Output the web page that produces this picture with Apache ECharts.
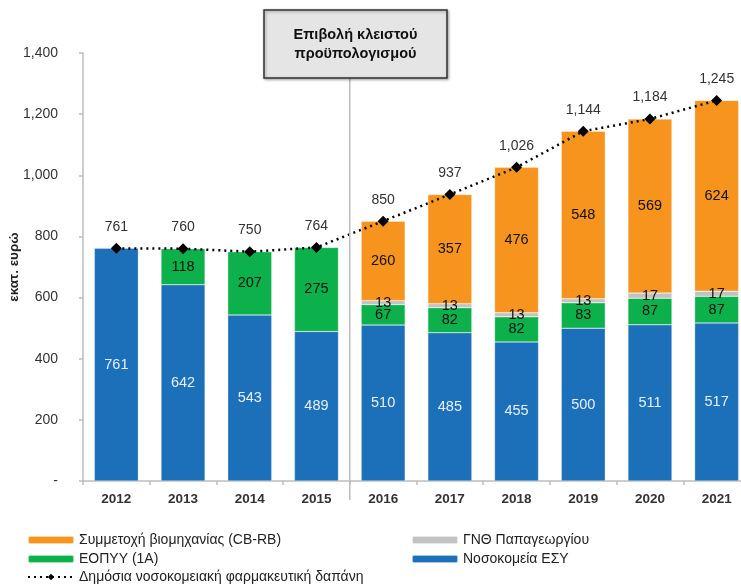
<!DOCTYPE html>
<html><head><meta charset="utf-8">
<script src="https://cdn.jsdelivr.net/npm/echarts@6/dist/echarts.min.js"></script>
<style>html,body{margin:0;padding:0;background:#fff}#c{width:741px;height:584px}</style>
</head><body><div id="c"></div>
<script>
const years = ['2012','2013','2014','2015','2016','2017','2018','2019','2020','2021'];
const esy = [761,642,543,489,510,485,455,500,511,517];
const eopyy = [null,118,207,275,67,82,82,83,87,87];
const papag = [null,null,null,null,13,13,13,13,17,17];
const industry = [null,null,null,null,260,357,476,548,569,624];
const total = [761,760,750,764,850,937,1026,1144,1184,1245];
const yTicks = {min:0,max:1400,interval:200};

const F = 'Liberation Sans, Arial, sans-serif';
const chart = echarts.init(document.getElementById('c'));
const barLabel = (color)=>({show:true,position:'inside',color:color,fontSize:14.5,fontFamily:F});
const common = {type:'bar',stack:'s',barWidth:44,itemStyle:{borderColor:'rgba(255,255,255,0.6)',borderWidth:0.5}};
const legText = {fontSize:14,color:'#222',fontFamily:F,lineHeight:16};
const leg = (left, top, name)=>({left:left,top:top,orient:'horizontal',padding:0,itemWidth:46,itemHeight:8,itemGap:3,textStyle:legText,data:[name]});
chart.setOption({
  animation:false,
  textStyle:{fontFamily:F},
  grid:{left:83,top:53,width:667,height:428,outerBoundsMode:'none',containLabel:false},
  xAxis:{type:'category',data:years,
    axisLine:{lineStyle:{color:'#bdbdbd',width:1.5}},
    axisTick:{show:true,length:4,lineStyle:{color:'#bdbdbd',width:1.5}},
    axisLabel:{color:'#333',fontSize:13.5,fontWeight:'bold',margin:11,fontFamily:F}},
  yAxis:{type:'value',min:yTicks.min,max:yTicks.max,interval:yTicks.interval,
    name:'εκατ. ευρώ',nameLocation:'middle',nameGap:62,nameRotate:90,nameMoveOverlap:false,
    nameTextStyle:{fontWeight:'bold',fontSize:13.5,color:'#222',fontFamily:F},
    axisLine:{show:true,lineStyle:{color:'#bdbdbd',width:1.5}},
    axisTick:{show:true,length:4,lineStyle:{color:'#bdbdbd',width:1.5}},
    splitLine:{show:false},
    axisLabel:{color:'#333',fontSize:14,margin:25,fontFamily:F,
      formatter:v=> v===0?'-':v.toLocaleString('en-US')}},
  legend:[
    leg(27,532,'Συμμετοχή βιομηχανίας (CB-RB)'),
    leg(27,551,'ΕΟΠΥΥ (1A)'),
    leg(27,569,'Δημόσια νοσοκομειακή φαρμακευτική δαπάνη'),
    leg(411,532,'ΓΝΘ Παπαγεωργίου'),
    leg(411,551,'Νοσοκομεία ΕΣΥ')
  ],
  series:[
    Object.assign({},common,{name:'Νοσοκομεία ΕΣΥ',data:esy,itemStyle:Object.assign({},common.itemStyle,{color:'#1c6fb9'}),label:barLabel('#e8f0fa')}),
    Object.assign({},common,{name:'ΕΟΠΥΥ (1A)',data:eopyy,itemStyle:Object.assign({},common.itemStyle,{color:'#0db14b'}),label:barLabel('#111')}),
    Object.assign({},common,{name:'ΓΝΘ Παπαγεωργίου',data:papag,itemStyle:Object.assign({},common.itemStyle,{color:'#c2c2c2'}),label:barLabel('#111')}),
    Object.assign({},common,{name:'Συμμετοχή βιομηχανίας (CB-RB)',data:industry,itemStyle:Object.assign({},common.itemStyle,{color:'#f7941d'}),label:barLabel('#111')}),
    {name:'Δημόσια νοσοκομειακή φαρμακευτική δαπάνη',type:'line',data:total,
     symbol:'diamond',symbolSize:11,itemStyle:{color:'#000'},
     lineStyle:{color:'#000',width:2.5,type:[2,4]},
     label:{show:true,position:'top',distance:9,color:'#333',fontSize:14,fontFamily:F,
       formatter:p=>p.value.toLocaleString('en-US')},z:5}
  ]
});
const x15 = chart.convertToPixel({xAxisIndex:0},'2015');
const x16 = chart.convertToPixel({xAxisIndex:0},'2016');
const xs = (x15+x16)/2;
chart.setOption({graphic:[
  {type:'line',shape:{x1:xs,y1:78,x2:xs,y2:500},style:{stroke:'#bdbdbd',lineWidth:1.5},z:10},
  {type:'rect',shape:{x:264,y:10,width:183,height:68},
   style:{fill:'#e5e5e5',stroke:'#333',lineWidth:1.5,shadowBlur:3,shadowColor:'rgba(0,0,0,0.35)',shadowOffsetX:1,shadowOffsetY:1},z:10},
  {type:'text',x:355.5,y:44,z:11,style:{text:'Επιβολή κλειστού\nπροϋπολογισμού',align:'center',verticalAlign:'middle',
   font:'bold 14.5px '+F,fill:'#111',lineHeight:19}}
]});
</script></body></html>
